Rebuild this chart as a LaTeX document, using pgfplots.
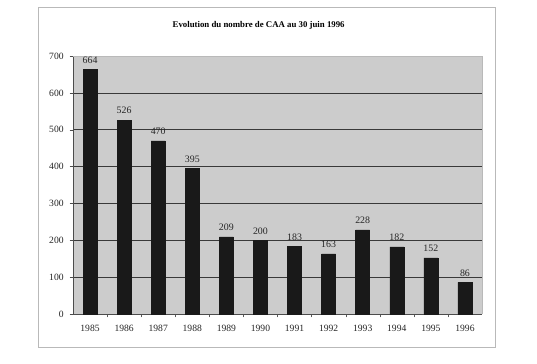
\documentclass[border=0pt]{standalone}
\usepackage{fontspec}
\setmainfont{Liberation Serif}
\usepackage{pgfplots}
\pgfplotsset{compat=1.18}
\begin{document}
\begin{tikzpicture}
\path[fill=white] (0,0) rectangle (402.75pt,-273pt);
\draw[gray!55, line width=0.6pt] (28.5pt,-5.5pt) rectangle (371.25pt,-260.5pt);
\node[font=\bfseries\fontsize{6.6}{8}\selectfont] at (194pt,-19pt) {Evolution du nombre de CAA au 30 juin 1996};
\begin{axis}[
  at={(54.75pt,-42pt)}, anchor=north west,
  width=306.75pt, height=193.5pt, scale only axis,
  xmin=-0.5, xmax=11.5, ymin=0, ymax=700,
  ytick={0,100,...,700},
  xtick={0,...,11},
  xticklabels={1985,1986,1987,1988,1989,1990,1991,1992,1993,1994,1995,1996},
  minor xtick={0.5,1.5,...,10.5},
  major x tick style={draw=none},
  minor x tick style={draw=gray!70!black},
  tick align=outside,
  major tick length=2.5pt, minor tick length=2.5pt,
  ymajorgrids, grid style={gray!45!black, line width=0.5pt},
  axis background/.style={fill=black!20},
  axis lines*=left,
  axis line style={gray!60!black},
  ytick style={gray!60!black},
  ticklabel style={font=\fontsize{7.2}{8}\selectfont, text=black!85},
  /pgf/number format/assume math mode=true,
  xticklabel style={yshift=-2pt},
  yticklabel style={xshift=-1pt},
  ybar, bar width=0.41, bar shift=0pt,
  nodes near coords,
  every node near coord/.append style={font=\fontsize{7.4}{8}\selectfont, text=black!85, yshift=1pt},
  clip=false,
]
\addplot[fill=black!90, draw=black!90] coordinates {
(0,664) (1,526) (2,470) (3,395) (4,209) (5,200) (6,183) (7,163) (8,228) (9,182) (10,152) (11,86)};
\draw[gray!55] (axis cs:11.5,0) -- (axis cs:11.5,700) -- (axis cs:-0.5,700);
\end{axis}
\end{tikzpicture}
\end{document}
